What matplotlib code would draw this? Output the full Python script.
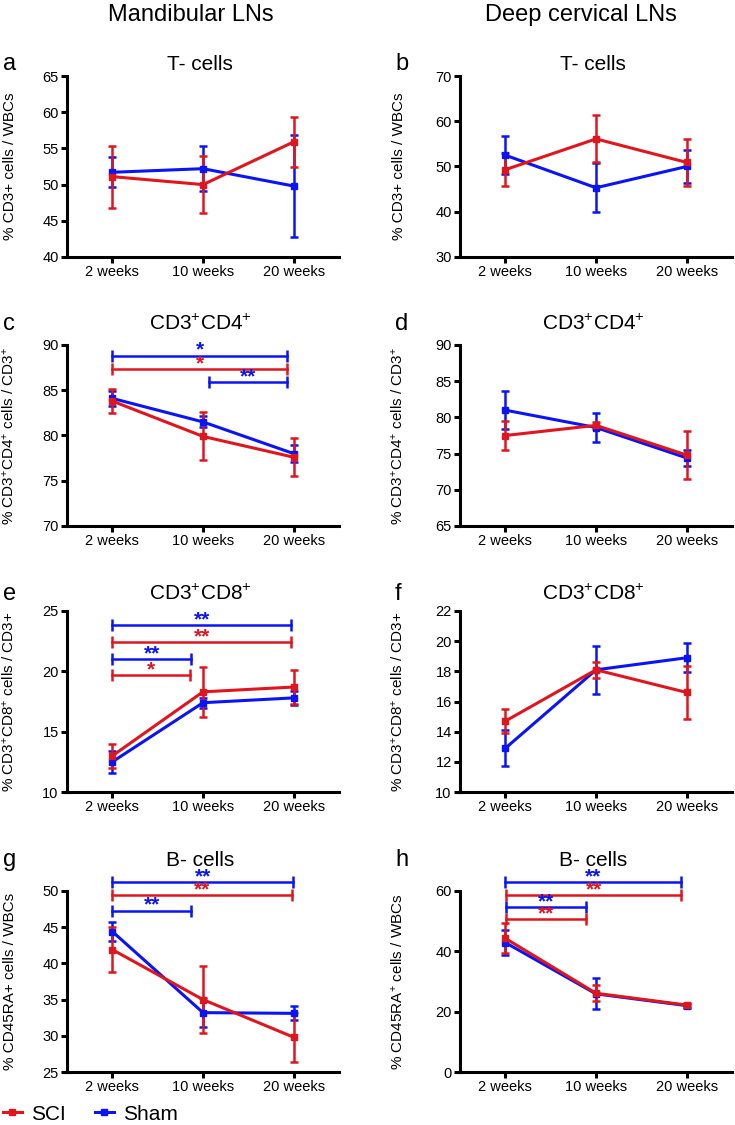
import matplotlib
matplotlib.use("Agg")
import matplotlib.pyplot as plt
from matplotlib.lines import Line2D

plt.rcParams.update({
    "font.family": ["Liberation Sans", "DejaVu Sans"],
    "mathtext.fontset": "custom",
    "mathtext.rm": "Liberation Sans",
    "mathtext.it": "Liberation Sans:italic",
    "mathtext.bf": "Liberation Sans:bold",
})

RED = "#e0161e"
BLUE = "#0a14f5"

weeks = ["2 weeks", "10 weeks", "20 weeks"]

# means / SEM
a_sci, a_sci_err = [51.1, 50.0, 55.9], [4.3, 3.9, 3.5]
a_sham, a_sham_err = [51.7, 52.2, 49.8], [2.1, 3.1, 7.0]

b_sci, b_sci_err = [49.3, 56.1, 50.9], [3.6, 5.2, 5.2]
b_sham, b_sham_err = [52.5, 45.3, 50.0], [4.2, 5.4, 3.7]

c_sci, c_sci_err = [83.8, 79.9, 77.6], [1.35, 2.65, 2.1]
c_sham, c_sham_err = [84.1, 81.5, 78.0], [0.8, 0.6, 0.95]

d_sci, d_sci_err = [77.5, 78.9, 74.8], [1.95, 0.5, 3.3]
d_sham, d_sham_err = [81.0, 78.6, 74.4], [2.65, 1.95, 1.1]

e_sci, e_sci_err = [13.0, 18.3, 18.7], [1.0, 2.05, 1.4]
e_sham, e_sham_err = [12.5, 17.4, 17.8], [0.9, 0.4, 0.6]

f_sci, f_sci_err = [14.7, 18.1, 16.6], [0.8, 0.55, 1.75]
f_sham, f_sham_err = [12.9, 18.1, 18.9], [1.2, 1.6, 0.95]

g_sci, g_sci_err = [41.9, 35.0, 29.8], [3.1, 4.6, 3.4]
g_sham, g_sham_err = [44.4, 33.2, 33.1], [1.35, 2.05, 0.95]

h_sci, h_sci_err = [44.3, 26.1, 22.2], [5.0, 2.7, 0.8]
h_sham, h_sham_err = [42.9, 25.9, 22.0], [4.2, 5.1, 0.7]

# significance brackets: (group, start, end, y, stars)
c_sig = [("sham", 0, 1.93, 88.8, "*"), ("sci", 0, 1.93, 87.3, "*"), ("sham", 1.07, 1.93, 85.9, "**")]
e_sig = [("sham", 0, 1.97, 23.8, "**"), ("sci", 0, 1.97, 22.4, "**"),
         ("sham", 0, 0.87, 21.0, "**"), ("sci", 0, 0.86, 19.7, "*")]
g_sig = [("sham", 0, 1.99, 51.2, "**"), ("sci", 0, 1.98, 49.4, "**"), ("sham", 0, 0.87, 47.3, "**")]
h_sig = [("sham", 0, 1.94, 62.9, "**"), ("sci", 0.01, 1.94, 58.7, "**"),
         ("sham", 0.01, 0.89, 54.7, "**"), ("sci", 0.01, 0.89, 50.6, "**")]

lab_cd3 = "% CD3+ cells / WBCs"
lab_cd4 = r"% CD3$^{+}$CD4$^{+}$ cells / CD3$^{+}$"
lab_cd8 = r"% CD3$^{+}$CD8$^{+}$ cells / CD3+"

panels = [
    ("a", "T- cells", lab_cd3, (40, 65, 5), a_sci, a_sci_err, a_sham, a_sham_err, []),
    ("b", "T- cells", lab_cd3, (30, 70, 10), b_sci, b_sci_err, b_sham, b_sham_err, []),
    ("c", r"CD3$^{+}$CD4$^{+}$", lab_cd4, (70, 90, 5), c_sci, c_sci_err, c_sham, c_sham_err, c_sig),
    ("d", r"CD3$^{+}$CD4$^{+}$", lab_cd4, (65, 90, 5), d_sci, d_sci_err, d_sham, d_sham_err, []),
    ("e", r"CD3$^{+}$CD8$^{+}$", lab_cd8, (10, 25, 5), e_sci, e_sci_err, e_sham, e_sham_err, e_sig),
    ("f", r"CD3$^{+}$CD8$^{+}$", lab_cd8, (10, 22, 2), f_sci, f_sci_err, f_sham, f_sham_err, []),
    ("g", "B- cells", "% CD45RA+ cells / WBCs", (25, 50, 5), g_sci, g_sci_err, g_sham, g_sham_err, g_sig),
    ("h", "B- cells", r"% CD45RA$^{+}$ cells / WBCs", (0, 60, 20), h_sci, h_sci_err, h_sham, h_sham_err, h_sig),
]

W, H = 735, 1125
fig = plt.figure(figsize=(W / 100, H / 100), dpi=100)

tops = [76, 345, 611, 891]
lefts = [67, 460]
title_base = [70, 330, 600, 866]
ax_w, ax_h = 272, 181

fig.text(191 / W, 1 - 21 / H, "Mandibular LNs", ha="center", va="baseline", fontsize=17)
fig.text(581 / W, 1 - 21 / H, "Deep cervical LNs", ha="center", va="baseline", fontsize=17)

x = list(range(len(weeks)))
for i, (letter, title, ylabel, (y0, y1, step), sci, sci_err, sham, sham_err, sig) in enumerate(panels):
    row, col = divmod(i, 2)
    left, top = lefts[col], tops[row]
    ax = fig.add_axes([left / W, 1 - (top + ax_h) / H, ax_w / W, ax_h / H])

    ax.errorbar(x, sham, yerr=sham_err, color=BLUE, lw=2.2, marker="s", ms=5,
                capsize=3, elinewidth=1.8, capthick=1.8, clip_on=False)
    ax.errorbar(x, sci, yerr=sci_err, color=RED, lw=2.2, marker="s", ms=5,
                capsize=3, elinewidth=1.8, capthick=1.8, clip_on=False)

    for grp, xs, xe, yy, stars in sig:
        c = BLUE if grp == "sham" else RED
        ax.plot([xs, xe], [yy, yy], color=c, lw=1.8, marker="|", ms=8, mew=1.8, clip_on=False)
        ax.annotate(stars, ((xs + xe) / 2, yy), xytext=(0, 0), textcoords="offset points",
                    ha="center", va="baseline", color=c, fontsize=15, fontweight="bold",
                    annotation_clip=False)

    ax.set_xlim(-0.5, 2.5)
    ax.set_ylim(y0, y1)
    ax.set_yticks(range(y0, y1 + 1, step))
    ax.set_xticks(x)
    ax.set_xticklabels(weeks)
    for s in ("top", "right"):
        ax.spines[s].set_visible(False)
    for s in ("left", "bottom"):
        ax.spines[s].set_linewidth(2.2)
    ax.tick_params(width=2.2, length=4, labelsize=10.5, pad=2)
    ax.set_ylabel(ylabel, fontsize=11)
    ax.yaxis.set_label_coords((17 if col == 0 else 406) / ax_w - left / ax_w, 0.5)

    fig.text((left + 133) / W, 1 - title_base[row] / H, title, ha="center", va="baseline", fontsize=15)
    fig.text((3 if col == 0 else 395) / W, 1 - title_base[row] / H, letter, ha="left", va="baseline", fontsize=17)

handles = [Line2D([], [], color=RED, marker="s", ms=5, lw=2.2),
           Line2D([], [], color=BLUE, marker="s", ms=5, lw=2.2)]
fig.legend(handles, ["SCI", "Sham"], loc="center left", bbox_to_anchor=(3 / W, 1 - 1114 / H),
           ncol=2, frameon=False, fontsize=15, handlelength=0.9, handletextpad=0.45,
           columnspacing=1.4, borderaxespad=0, borderpad=0)

fig.savefig("out.png", dpi=100)
